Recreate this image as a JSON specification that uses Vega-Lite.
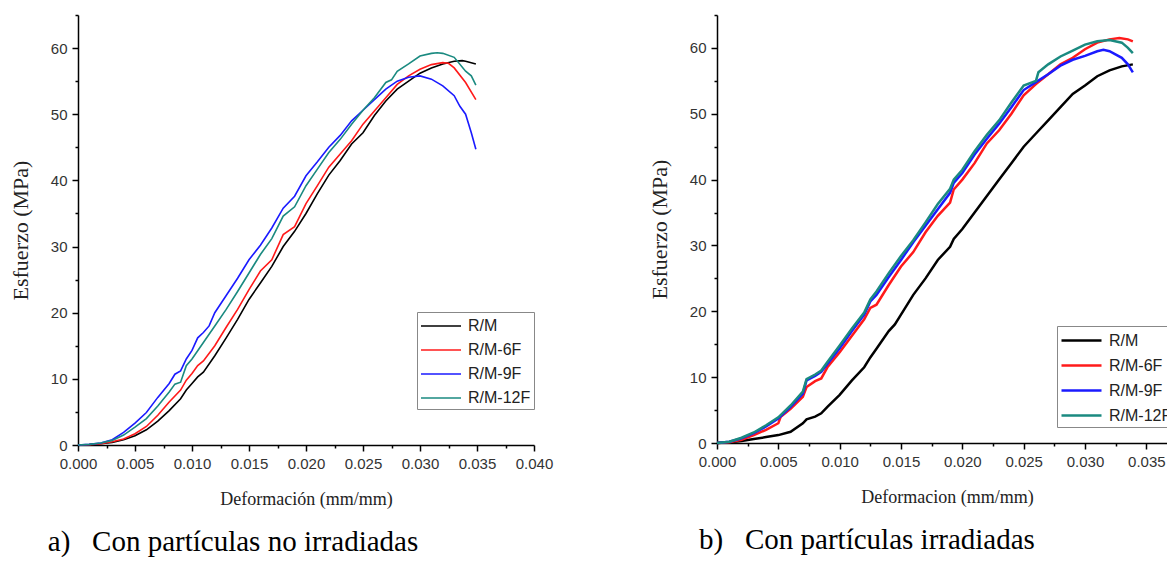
{
"$schema": "https://vega.github.io/schema/vega-lite/v6.json",
"background": "white",
"padding": {"left": 9, "top": 14, "right": 0, "bottom": 0},
"spacing": 95,
"resolve": {"scale": {"color": "independent"}, "legend": {"color": "independent"}},
"config": {
  "view": {"stroke": null},
  "axis": {"domainColor": "#000", "domainWidth": 1.5, "tickColor": "#000", "tickWidth": 1.5, "labelFont": "Liberation Sans", "labelFontSize": 15, "labelColor": "#333", "labelFlush": false, "titleFont": "Liberation Serif", "titleFontWeight": "normal", "titleColor": "#222", "grid": false},
  "legend": {"orient": "none", "title": null, "symbolType": "M-1,0H3", "symbolSize": 400, "labelFont": "Liberation Sans", "labelFontSize": 16, "labelColor": "#222", "strokeColor": "#888", "fillColor": "white", "padding": 3, "rowPadding": 5, "labelOffset": 26}
},
"datasets": {
"left": [
{"x":0,"y":0,"s":"R/M"},{"x":0.001,"y":0.05,"s":"R/M"},{"x":0.002,"y":0.2,"s":"R/M"},{"x":0.003,"y":0.4,"s":"R/M"},{"x":0.004,"y":0.8,"s":"R/M"},{"x":0.005,"y":1.4,"s":"R/M"},{"x":0.006,"y":2.3,"s":"R/M"},{"x":0.007,"y":3.6,"s":"R/M"},{"x":0.008,"y":5.2,"s":"R/M"},{"x":0.009,"y":7.0,"s":"R/M"},{"x":0.0095,"y":8.3,"s":"R/M"},{"x":0.010,"y":9.3,"s":"R/M"},{"x":0.0105,"y":10.3,"s":"R/M"},{"x":0.011,"y":11.0,"s":"R/M"},{"x":0.012,"y":13.5,"s":"R/M"},{"x":0.013,"y":16.2,"s":"R/M"},{"x":0.014,"y":19.0,"s":"R/M"},{"x":0.015,"y":22.0,"s":"R/M"},{"x":0.016,"y":24.5,"s":"R/M"},{"x":0.017,"y":27.0,"s":"R/M"},{"x":0.018,"y":30.0,"s":"R/M"},{"x":0.019,"y":32.3,"s":"R/M"},{"x":0.020,"y":35.0,"s":"R/M"},{"x":0.021,"y":38.0,"s":"R/M"},{"x":0.022,"y":40.8,"s":"R/M"},{"x":0.023,"y":43.0,"s":"R/M"},{"x":0.024,"y":45.5,"s":"R/M"},{"x":0.025,"y":47.2,"s":"R/M"},{"x":0.026,"y":49.8,"s":"R/M"},{"x":0.027,"y":52.0,"s":"R/M"},{"x":0.028,"y":53.8,"s":"R/M"},{"x":0.029,"y":55.0,"s":"R/M"},{"x":0.030,"y":56.2,"s":"R/M"},{"x":0.031,"y":57.0,"s":"R/M"},{"x":0.032,"y":57.6,"s":"R/M"},{"x":0.033,"y":58.0,"s":"R/M"},{"x":0.0337,"y":58.1,"s":"R/M"},{"x":0.034,"y":58.0,"s":"R/M"},{"x":0.0349,"y":57.6,"s":"R/M"},
{"x":0,"y":0,"s":"R/M-6F"},{"x":0.001,"y":0.05,"s":"R/M-6F"},{"x":0.002,"y":0.2,"s":"R/M-6F"},{"x":0.003,"y":0.5,"s":"R/M-6F"},{"x":0.004,"y":0.9,"s":"R/M-6F"},{"x":0.005,"y":1.7,"s":"R/M-6F"},{"x":0.006,"y":2.8,"s":"R/M-6F"},{"x":0.007,"y":4.5,"s":"R/M-6F"},{"x":0.008,"y":6.5,"s":"R/M-6F"},{"x":0.009,"y":8.3,"s":"R/M-6F"},{"x":0.0095,"y":9.8,"s":"R/M-6F"},{"x":0.010,"y":10.8,"s":"R/M-6F"},{"x":0.0105,"y":12.0,"s":"R/M-6F"},{"x":0.011,"y":12.7,"s":"R/M-6F"},{"x":0.012,"y":15.0,"s":"R/M-6F"},{"x":0.013,"y":17.8,"s":"R/M-6F"},{"x":0.014,"y":20.5,"s":"R/M-6F"},{"x":0.015,"y":23.5,"s":"R/M-6F"},{"x":0.016,"y":26.3,"s":"R/M-6F"},{"x":0.017,"y":28.0,"s":"R/M-6F"},{"x":0.018,"y":31.8,"s":"R/M-6F"},{"x":0.019,"y":33.0,"s":"R/M-6F"},{"x":0.020,"y":36.5,"s":"R/M-6F"},{"x":0.021,"y":39.2,"s":"R/M-6F"},{"x":0.022,"y":42.0,"s":"R/M-6F"},{"x":0.023,"y":44.0,"s":"R/M-6F"},{"x":0.024,"y":46.0,"s":"R/M-6F"},{"x":0.025,"y":48.5,"s":"R/M-6F"},{"x":0.026,"y":50.5,"s":"R/M-6F"},{"x":0.027,"y":52.5,"s":"R/M-6F"},{"x":0.028,"y":54.5,"s":"R/M-6F"},{"x":0.029,"y":55.8,"s":"R/M-6F"},{"x":0.030,"y":56.8,"s":"R/M-6F"},{"x":0.031,"y":57.5,"s":"R/M-6F"},{"x":0.032,"y":57.8,"s":"R/M-6F"},{"x":0.0325,"y":57.7,"s":"R/M-6F"},{"x":0.033,"y":57.0,"s":"R/M-6F"},{"x":0.034,"y":54.8,"s":"R/M-6F"},{"x":0.0349,"y":52.2,"s":"R/M-6F"},
{"x":0,"y":0,"s":"R/M-9F"},{"x":0.001,"y":0.1,"s":"R/M-9F"},{"x":0.002,"y":0.3,"s":"R/M-9F"},{"x":0.003,"y":0.8,"s":"R/M-9F"},{"x":0.004,"y":1.9,"s":"R/M-9F"},{"x":0.005,"y":3.3,"s":"R/M-9F"},{"x":0.006,"y":4.9,"s":"R/M-9F"},{"x":0.007,"y":7.2,"s":"R/M-9F"},{"x":0.008,"y":9.3,"s":"R/M-9F"},{"x":0.0085,"y":10.7,"s":"R/M-9F"},{"x":0.009,"y":11.2,"s":"R/M-9F"},{"x":0.0095,"y":13.0,"s":"R/M-9F"},{"x":0.010,"y":14.3,"s":"R/M-9F"},{"x":0.0105,"y":16.2,"s":"R/M-9F"},{"x":0.011,"y":17.0,"s":"R/M-9F"},{"x":0.0115,"y":18.0,"s":"R/M-9F"},{"x":0.012,"y":20.0,"s":"R/M-9F"},{"x":0.013,"y":22.6,"s":"R/M-9F"},{"x":0.014,"y":25.2,"s":"R/M-9F"},{"x":0.015,"y":28.0,"s":"R/M-9F"},{"x":0.016,"y":30.2,"s":"R/M-9F"},{"x":0.017,"y":32.8,"s":"R/M-9F"},{"x":0.018,"y":35.8,"s":"R/M-9F"},{"x":0.019,"y":37.6,"s":"R/M-9F"},{"x":0.020,"y":40.7,"s":"R/M-9F"},{"x":0.021,"y":42.8,"s":"R/M-9F"},{"x":0.022,"y":45.0,"s":"R/M-9F"},{"x":0.023,"y":46.8,"s":"R/M-9F"},{"x":0.024,"y":49.0,"s":"R/M-9F"},{"x":0.025,"y":50.6,"s":"R/M-9F"},{"x":0.026,"y":52.2,"s":"R/M-9F"},{"x":0.027,"y":53.8,"s":"R/M-9F"},{"x":0.028,"y":55.0,"s":"R/M-9F"},{"x":0.029,"y":55.6,"s":"R/M-9F"},{"x":0.030,"y":55.8,"s":"R/M-9F"},{"x":0.031,"y":55.3,"s":"R/M-9F"},{"x":0.032,"y":54.3,"s":"R/M-9F"},{"x":0.033,"y":52.8,"s":"R/M-9F"},{"x":0.0335,"y":51.2,"s":"R/M-9F"},{"x":0.034,"y":50.0,"s":"R/M-9F"},{"x":0.0345,"y":47.2,"s":"R/M-9F"},{"x":0.0349,"y":44.7,"s":"R/M-9F"},
{"x":0,"y":0,"s":"R/M-12F"},{"x":0.001,"y":0.1,"s":"R/M-12F"},{"x":0.002,"y":0.3,"s":"R/M-12F"},{"x":0.003,"y":0.7,"s":"R/M-12F"},{"x":0.004,"y":1.5,"s":"R/M-12F"},{"x":0.005,"y":2.7,"s":"R/M-12F"},{"x":0.006,"y":4.0,"s":"R/M-12F"},{"x":0.007,"y":5.9,"s":"R/M-12F"},{"x":0.008,"y":8.0,"s":"R/M-12F"},{"x":0.0085,"y":9.2,"s":"R/M-12F"},{"x":0.009,"y":9.5,"s":"R/M-12F"},{"x":0.0095,"y":12.0,"s":"R/M-12F"},{"x":0.010,"y":13.0,"s":"R/M-12F"},{"x":0.011,"y":15.5,"s":"R/M-12F"},{"x":0.012,"y":18.0,"s":"R/M-12F"},{"x":0.013,"y":20.5,"s":"R/M-12F"},{"x":0.014,"y":23.2,"s":"R/M-12F"},{"x":0.015,"y":26.0,"s":"R/M-12F"},{"x":0.016,"y":28.8,"s":"R/M-12F"},{"x":0.017,"y":31.2,"s":"R/M-12F"},{"x":0.018,"y":34.6,"s":"R/M-12F"},{"x":0.019,"y":36.0,"s":"R/M-12F"},{"x":0.020,"y":39.2,"s":"R/M-12F"},{"x":0.021,"y":41.7,"s":"R/M-12F"},{"x":0.022,"y":44.2,"s":"R/M-12F"},{"x":0.023,"y":46.2,"s":"R/M-12F"},{"x":0.024,"y":48.5,"s":"R/M-12F"},{"x":0.025,"y":50.6,"s":"R/M-12F"},{"x":0.026,"y":52.5,"s":"R/M-12F"},{"x":0.027,"y":54.8,"s":"R/M-12F"},{"x":0.0275,"y":55.2,"s":"R/M-12F"},{"x":0.028,"y":56.5,"s":"R/M-12F"},{"x":0.029,"y":57.6,"s":"R/M-12F"},{"x":0.030,"y":58.8,"s":"R/M-12F"},{"x":0.031,"y":59.2,"s":"R/M-12F"},{"x":0.0315,"y":59.3,"s":"R/M-12F"},{"x":0.032,"y":59.2,"s":"R/M-12F"},{"x":0.033,"y":58.6,"s":"R/M-12F"},{"x":0.034,"y":56.5,"s":"R/M-12F"},{"x":0.0345,"y":55.8,"s":"R/M-12F"},{"x":0.0349,"y":54.4,"s":"R/M-12F"}
],
"right": [
{"x":0,"y":0,"s":"R/M"},{"x":0.001,"y":0.1,"s":"R/M"},{"x":0.002,"y":0.3,"s":"R/M"},{"x":0.003,"y":0.6,"s":"R/M"},{"x":0.004,"y":0.9,"s":"R/M"},{"x":0.005,"y":1.2,"s":"R/M"},{"x":0.006,"y":1.7,"s":"R/M"},{"x":0.007,"y":3.0,"s":"R/M"},{"x":0.0073,"y":3.6,"s":"R/M"},{"x":0.008,"y":4.0,"s":"R/M"},{"x":0.0085,"y":4.5,"s":"R/M"},{"x":0.009,"y":5.5,"s":"R/M"},{"x":0.010,"y":7.3,"s":"R/M"},{"x":0.011,"y":9.5,"s":"R/M"},{"x":0.012,"y":11.5,"s":"R/M"},{"x":0.0125,"y":13.0,"s":"R/M"},{"x":0.013,"y":14.3,"s":"R/M"},{"x":0.014,"y":17.0,"s":"R/M"},{"x":0.0145,"y":18.0,"s":"R/M"},{"x":0.015,"y":19.5,"s":"R/M"},{"x":0.016,"y":22.5,"s":"R/M"},{"x":0.017,"y":25.0,"s":"R/M"},{"x":0.018,"y":27.8,"s":"R/M"},{"x":0.019,"y":29.8,"s":"R/M"},{"x":0.0193,"y":31.0,"s":"R/M"},{"x":0.020,"y":32.5,"s":"R/M"},{"x":0.021,"y":35.0,"s":"R/M"},{"x":0.022,"y":37.5,"s":"R/M"},{"x":0.023,"y":40.0,"s":"R/M"},{"x":0.024,"y":42.5,"s":"R/M"},{"x":0.025,"y":45.0,"s":"R/M"},{"x":0.026,"y":47.0,"s":"R/M"},{"x":0.027,"y":49.0,"s":"R/M"},{"x":0.028,"y":51.0,"s":"R/M"},{"x":0.029,"y":53.0,"s":"R/M"},{"x":0.030,"y":54.3,"s":"R/M"},{"x":0.031,"y":55.7,"s":"R/M"},{"x":0.032,"y":56.6,"s":"R/M"},{"x":0.033,"y":57.2,"s":"R/M"},{"x":0.0339,"y":57.5,"s":"R/M"},
{"x":0,"y":0,"s":"R/M-6F"},{"x":0.001,"y":0.1,"s":"R/M-6F"},{"x":0.002,"y":0.5,"s":"R/M-6F"},{"x":0.003,"y":1.2,"s":"R/M-6F"},{"x":0.004,"y":2.0,"s":"R/M-6F"},{"x":0.005,"y":3.0,"s":"R/M-6F"},{"x":0.0052,"y":4.0,"s":"R/M-6F"},{"x":0.006,"y":5.2,"s":"R/M-6F"},{"x":0.007,"y":7.0,"s":"R/M-6F"},{"x":0.0073,"y":8.5,"s":"R/M-6F"},{"x":0.008,"y":9.4,"s":"R/M-6F"},{"x":0.0085,"y":9.8,"s":"R/M-6F"},{"x":0.009,"y":11.5,"s":"R/M-6F"},{"x":0.010,"y":13.8,"s":"R/M-6F"},{"x":0.011,"y":16.3,"s":"R/M-6F"},{"x":0.012,"y":18.8,"s":"R/M-6F"},{"x":0.0125,"y":20.5,"s":"R/M-6F"},{"x":0.013,"y":21.0,"s":"R/M-6F"},{"x":0.014,"y":24.0,"s":"R/M-6F"},{"x":0.015,"y":26.8,"s":"R/M-6F"},{"x":0.016,"y":29.0,"s":"R/M-6F"},{"x":0.017,"y":32.0,"s":"R/M-6F"},{"x":0.018,"y":34.5,"s":"R/M-6F"},{"x":0.019,"y":36.5,"s":"R/M-6F"},{"x":0.0193,"y":38.5,"s":"R/M-6F"},{"x":0.020,"y":40.0,"s":"R/M-6F"},{"x":0.021,"y":42.5,"s":"R/M-6F"},{"x":0.022,"y":45.5,"s":"R/M-6F"},{"x":0.023,"y":47.5,"s":"R/M-6F"},{"x":0.024,"y":50.0,"s":"R/M-6F"},{"x":0.025,"y":52.8,"s":"R/M-6F"},{"x":0.026,"y":54.5,"s":"R/M-6F"},{"x":0.027,"y":56.0,"s":"R/M-6F"},{"x":0.028,"y":57.5,"s":"R/M-6F"},{"x":0.029,"y":58.5,"s":"R/M-6F"},{"x":0.030,"y":59.8,"s":"R/M-6F"},{"x":0.031,"y":60.8,"s":"R/M-6F"},{"x":0.032,"y":61.3,"s":"R/M-6F"},{"x":0.0328,"y":61.5,"s":"R/M-6F"},{"x":0.0335,"y":61.3,"s":"R/M-6F"},{"x":0.0339,"y":61.0,"s":"R/M-6F"},
{"x":0,"y":0,"s":"R/M-9F"},{"x":0.001,"y":0.2,"s":"R/M-9F"},{"x":0.002,"y":0.7,"s":"R/M-9F"},{"x":0.003,"y":1.5,"s":"R/M-9F"},{"x":0.004,"y":2.5,"s":"R/M-9F"},{"x":0.005,"y":3.7,"s":"R/M-9F"},{"x":0.006,"y":5.5,"s":"R/M-9F"},{"x":0.007,"y":7.5,"s":"R/M-9F"},{"x":0.0073,"y":9.5,"s":"R/M-9F"},{"x":0.008,"y":10.2,"s":"R/M-9F"},{"x":0.0085,"y":10.8,"s":"R/M-9F"},{"x":0.009,"y":12.0,"s":"R/M-9F"},{"x":0.010,"y":14.4,"s":"R/M-9F"},{"x":0.011,"y":17.0,"s":"R/M-9F"},{"x":0.012,"y":19.5,"s":"R/M-9F"},{"x":0.0125,"y":21.5,"s":"R/M-9F"},{"x":0.013,"y":22.5,"s":"R/M-9F"},{"x":0.014,"y":25.2,"s":"R/M-9F"},{"x":0.015,"y":27.8,"s":"R/M-9F"},{"x":0.016,"y":30.5,"s":"R/M-9F"},{"x":0.017,"y":33.0,"s":"R/M-9F"},{"x":0.018,"y":35.5,"s":"R/M-9F"},{"x":0.019,"y":38.0,"s":"R/M-9F"},{"x":0.0193,"y":39.5,"s":"R/M-9F"},{"x":0.020,"y":41.0,"s":"R/M-9F"},{"x":0.021,"y":43.8,"s":"R/M-9F"},{"x":0.022,"y":46.2,"s":"R/M-9F"},{"x":0.023,"y":48.5,"s":"R/M-9F"},{"x":0.024,"y":51.0,"s":"R/M-9F"},{"x":0.025,"y":53.6,"s":"R/M-9F"},{"x":0.026,"y":54.8,"s":"R/M-9F"},{"x":0.027,"y":56.0,"s":"R/M-9F"},{"x":0.028,"y":57.3,"s":"R/M-9F"},{"x":0.029,"y":58.2,"s":"R/M-9F"},{"x":0.030,"y":58.8,"s":"R/M-9F"},{"x":0.031,"y":59.5,"s":"R/M-9F"},{"x":0.0315,"y":59.7,"s":"R/M-9F"},{"x":0.032,"y":59.5,"s":"R/M-9F"},{"x":0.033,"y":58.5,"s":"R/M-9F"},{"x":0.0335,"y":57.5,"s":"R/M-9F"},{"x":0.0339,"y":56.3,"s":"R/M-9F"},
{"x":0,"y":0,"s":"R/M-12F"},{"x":0.001,"y":0.2,"s":"R/M-12F"},{"x":0.002,"y":0.8,"s":"R/M-12F"},{"x":0.003,"y":1.6,"s":"R/M-12F"},{"x":0.004,"y":2.7,"s":"R/M-12F"},{"x":0.005,"y":3.9,"s":"R/M-12F"},{"x":0.006,"y":5.7,"s":"R/M-12F"},{"x":0.007,"y":7.8,"s":"R/M-12F"},{"x":0.0073,"y":9.7,"s":"R/M-12F"},{"x":0.008,"y":10.4,"s":"R/M-12F"},{"x":0.0085,"y":11.0,"s":"R/M-12F"},{"x":0.009,"y":12.3,"s":"R/M-12F"},{"x":0.010,"y":14.8,"s":"R/M-12F"},{"x":0.011,"y":17.4,"s":"R/M-12F"},{"x":0.012,"y":19.8,"s":"R/M-12F"},{"x":0.0125,"y":21.8,"s":"R/M-12F"},{"x":0.013,"y":23.0,"s":"R/M-12F"},{"x":0.014,"y":25.8,"s":"R/M-12F"},{"x":0.015,"y":28.4,"s":"R/M-12F"},{"x":0.016,"y":30.8,"s":"R/M-12F"},{"x":0.017,"y":33.5,"s":"R/M-12F"},{"x":0.018,"y":36.3,"s":"R/M-12F"},{"x":0.019,"y":38.6,"s":"R/M-12F"},{"x":0.0193,"y":40.0,"s":"R/M-12F"},{"x":0.020,"y":41.5,"s":"R/M-12F"},{"x":0.021,"y":44.3,"s":"R/M-12F"},{"x":0.022,"y":46.8,"s":"R/M-12F"},{"x":0.023,"y":49.0,"s":"R/M-12F"},{"x":0.024,"y":51.7,"s":"R/M-12F"},{"x":0.025,"y":54.3,"s":"R/M-12F"},{"x":0.026,"y":55.0,"s":"R/M-12F"},{"x":0.0262,"y":56.3,"s":"R/M-12F"},{"x":0.027,"y":57.5,"s":"R/M-12F"},{"x":0.028,"y":58.7,"s":"R/M-12F"},{"x":0.029,"y":59.6,"s":"R/M-12F"},{"x":0.030,"y":60.5,"s":"R/M-12F"},{"x":0.031,"y":61.0,"s":"R/M-12F"},{"x":0.032,"y":61.2,"s":"R/M-12F"},{"x":0.033,"y":60.8,"s":"R/M-12F"},{"x":0.0335,"y":60.0,"s":"R/M-12F"},{"x":0.0339,"y":59.2,"s":"R/M-12F"}
]
},
"hconcat": [
{
  "width": 456, "height": 430,
  "data": {"name": "left"},
  "title": {"text": "a)\u00a0\u00a0\u00a0Con partículas no irradiadas", "orient": "bottom", "anchor": "middle", "frame": "group", "dx": -73, "offset": 20, "font": "Liberation Serif", "fontSize": 29, "fontWeight": "normal", "color": "#000"},
  "layer": [
    {
      "mark": {"type": "line", "strokeWidth": 1.6},
      "encoding": {
        "x": {"field": "x", "type": "quantitative", "scale": {"domain": [0, 0.04], "nice": false}, "axis": {"values": [0, 0.005, 0.01, 0.015, 0.02, 0.025, 0.03, 0.035, 0.04], "format": ".3f", "tickSize": 6, "labelPadding": 5, "title": "Deformación (mm/mm)", "titleFontSize": 18, "titlePadding": 19}},
        "y": {"field": "y", "type": "quantitative", "scale": {"domain": [0, 65], "nice": false}, "axis": {"values": [0, 10, 20, 30, 40, 50, 60], "tickSize": 6, "labelPadding": 5, "title": "Esfuerzo (MPa)", "titleFontSize": 22, "titlePadding": 18}},
        "color": {"field": "s", "type": "nominal", "scale": {"domain": ["R/M", "R/M-6F", "R/M-9F", "R/M-12F"], "range": ["#000000", "#ff1a1a", "#1a1aff", "#1a8a80"]}, "legend": {"legendX": 339, "legendY": 297, "symbolStrokeWidth": 1.5}}
      }
    },
    {
      "mark": {"type": "line", "opacity": 0},
      "encoding": {
        "x": {"field": "x", "type": "quantitative", "axis": {"orient": "bottom", "values": [0.0025, 0.0075, 0.0125, 0.0175, 0.0225, 0.0275, 0.0325, 0.0375], "labels": false, "domain": false, "tickSize": 3, "title": null}},
        "y": {"field": "y", "type": "quantitative", "axis": {"orient": "left", "values": [5, 15, 25, 35, 45, 55, 65], "labels": false, "domain": false, "tickSize": 3, "title": null}},
        "detail": {"field": "s"}
      }
    }
  ],
  "resolve": {"axis": {"x": "independent", "y": "independent"}}
},
{
  "width": 460, "height": 428,
  "data": {"name": "right"},
  "title": {"text": "b)\u00a0\u00a0\u00a0Con partículas irradiadas", "orient": "bottom", "anchor": "middle", "frame": "group", "dx": -80, "offset": 20, "font": "Liberation Serif", "fontSize": 29, "fontWeight": "normal", "color": "#000"},
  "layer": [
    {
      "mark": {"type": "line", "strokeWidth": 2.5},
      "encoding": {
        "x": {"field": "x", "type": "quantitative", "scale": {"domain": [0, 0.0375], "nice": false}, "axis": {"values": [0, 0.005, 0.01, 0.015, 0.02, 0.025, 0.03, 0.035], "format": ".3f", "tickSize": 6, "labelPadding": 5, "title": "Deformacion (mm/mm)", "titleFontSize": 18, "titlePadding": 19}},
        "y": {"field": "y", "type": "quantitative", "scale": {"domain": [0, 65], "nice": false}, "axis": {"values": [0, 10, 20, 30, 40, 50, 60], "tickSize": 6, "labelPadding": 5, "title": "Esfuerzo (MPa)", "titleFontSize": 22, "titlePadding": 18}},
        "color": {"field": "s", "type": "nominal", "scale": {"domain": ["R/M", "R/M-6F", "R/M-9F", "R/M-12F"], "range": ["#000000", "#ff1a1a", "#1a1aff", "#1a8a80"]}, "legend": {"legendX": 340, "legendY": 311, "symbolStrokeWidth": 2.5}}
      }
    },
    {
      "mark": {"type": "line", "opacity": 0},
      "encoding": {
        "x": {"field": "x", "type": "quantitative", "axis": {"orient": "bottom", "values": [0.0025, 0.0075, 0.0125, 0.0175, 0.0225, 0.0275, 0.0325], "labels": false, "domain": false, "tickSize": 3, "title": null}},
        "y": {"field": "y", "type": "quantitative", "axis": {"orient": "left", "values": [5, 15, 25, 35, 45, 55, 65], "labels": false, "domain": false, "tickSize": 3, "title": null}},
        "detail": {"field": "s"}
      }
    }
  ],
  "resolve": {"axis": {"x": "independent", "y": "independent"}}
}
]
}
